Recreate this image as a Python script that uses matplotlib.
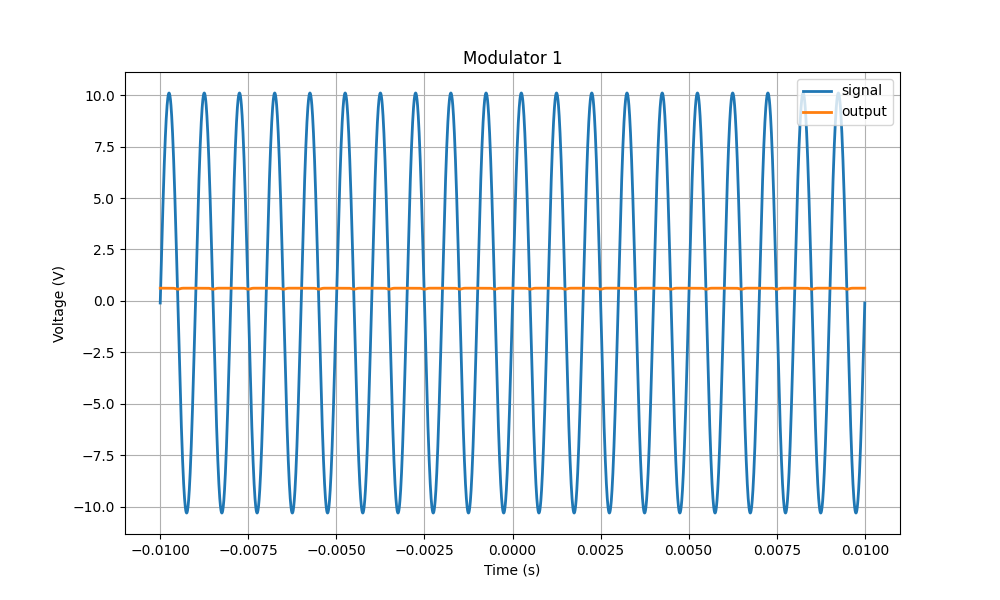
import numpy as np
import matplotlib.pyplot as plt

# values
t_start, t_stop = -0.01, 0.01
freq = 1000.0          # Hz, 20 cycles across the window
amplitude = 10.2       # V
offset = -0.1          # V
output_level = 0.62    # V
output_dip = 0.05      # V, small dips once per cycle

t = np.linspace(t_start, t_stop, 4001)
phase = 2 * np.pi * freq * (t - t_start)
signal = amplitude * np.sin(phase) + offset
output = output_level - output_dip * np.clip(-np.cos(phase), 0, None) ** 8

fig = plt.figure(figsize=(10, 6))
ax = plt.gca()
ax.plot(t, signal, label="signal", linewidth=2)
ax.plot(t, output, label="output", linewidth=2)
ax.set_title("Modulator 1")
ax.set_xlabel("Time (s)")
ax.set_ylabel("Voltage (V)")
ax.grid(True)
ax.legend(loc="upper right")
plt.savefig("out.png", dpi=100)
